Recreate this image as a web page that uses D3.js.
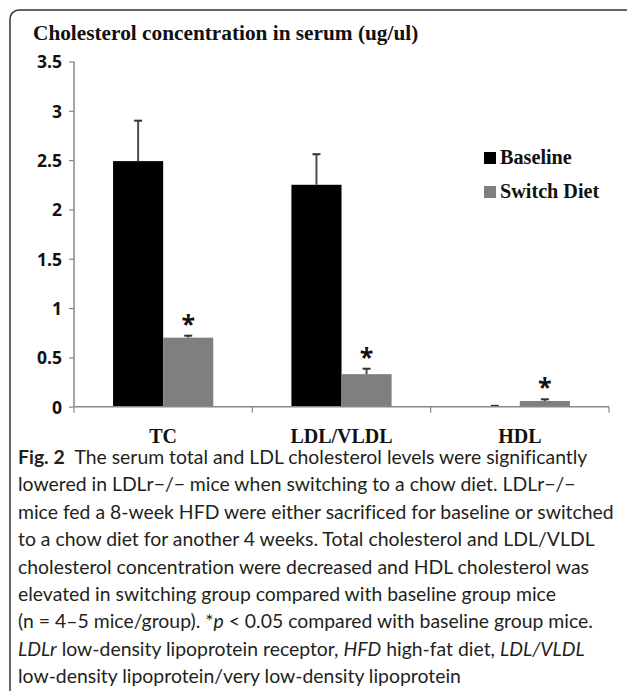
<!DOCTYPE html>
<html>
<head>
<meta charset="utf-8">
<script src="https://cdn.jsdelivr.net/npm/d3@7/dist/d3.min.js"></script>
<style>
  html, body { margin: 0; padding: 0; background: #fff; }
  svg { display: block; }
  .ytick text { font-family: "Open Sans", sans-serif; font-weight: 700; font-size: 17.5px; fill: #111; }
  .serif { font-family: "Liberation Serif", "Times New Roman", serif; font-weight: 700; fill: #111; }
  .cap { font-family: Lato, "Noto Sans", sans-serif; fill: #231f20; font-variant-ligatures: none; }
</style>
</head>
<body>
<svg id="chart" width="627" height="691"></svg>
<script>
// serum cholesterol, baseline vs switch diet (bars with upper SE only)
const categories = ["TC", "LDL/VLDL", "HDL"];
const series = ["Baseline", "Switch Diet"];
const baseline = [2.49, 2.25, 0.005];
const baselineErr = [0.41, 0.31, 0.004];
const switchDiet = [0.70, 0.33, 0.058];
const switchErr = [0.02, 0.055, 0.017];
const starred = [true, true, true]; // * over switch diet bars
const yTicks = [0, 0.5, 1, 1.5, 2, 2.5, 3, 3.5];

const captionLines = [
  [["b", "Fig. 2"], ["n", "\u2002The serum total and LDL cholesterol levels were significantly"]],
  [["n", "lowered in LDLr\u2212/\u2212 mice when switching to a chow diet. LDLr\u2212/\u2212"]],
  [["n", "mice fed a 8-week HFD were either sacrificed for baseline or switched"]],
  [["n", "to a chow diet for another 4 weeks. Total cholesterol and LDL/VLDL"]],
  [["n", "cholesterol concentration were decreased and HDL cholesterol was"]],
  [["n", "elevated in switching group compared with baseline group mice"]],
  [["n", "(n = 4\u20135 mice/group). *"], ["i", "p"], ["n", " < 0.05 compared with baseline group mice."]],
  [["i", "LDLr"], ["n", " low-density lipoprotein receptor, "], ["i", "HFD"], ["n", " high-fat diet, "], ["i", "LDL/VLDL"]],
  [["n", "low-density lipoprotein/very low-density lipoprotein"]],
];

const svg = d3.select("#chart");

// frame (rounded, runs off the right and bottom)
svg.append("rect")
  .attr("x", 10).attr("y", 10)
  .attr("width", 640).attr("height", 700)
  .attr("rx", 9)
  .attr("fill", "none")
  .attr("stroke", "#333")
  .attr("stroke-width", 1.5);

const x0 = d3.scaleBand().domain(categories).range([74, 609]);
const x1 = d3.scaleBand().domain(series).range([0, x0.bandwidth()]).paddingOuter(0.78);
const y = d3.scaleLinear().domain([0, 3.5]).range([406.7, 61.5]);

// title
svg.append("text").attr("class", "serif")
  .attr("x", 33).attr("y", 40)
  .attr("font-size", 21.3)
  .text("Cholesterol concentration in serum (ug/ul)");

// y axis
const yAxis = svg.append("g")
  .attr("class", "ytick")
  .attr("transform", "translate(74,0)")
  .call(d3.axisLeft(y).tickValues(yTicks).tickSize(5).tickPadding(7).tickFormat(d3.format("")));
yAxis.select(".domain").attr("stroke", "#888").attr("stroke-width", 1.5).attr("d", `M0,${y(0)}V${y(3.5)}`);
yAxis.selectAll(".tick line").attr("stroke", "#888").attr("stroke-width", 1.2);
yAxis.selectAll(".tick text").attr("dy", "0.36em");

// bars
const rows = categories.map((c, i) => ({
  cat: c,
  vals: [
    { s: series[0], v: baseline[i], e: baselineErr[i], star: false },
    { s: series[1], v: switchDiet[i], e: switchErr[i], star: starred[i] },
  ],
}));
const color = d3.scaleOrdinal().domain(series).range(["#000", "#7f7f7f"]);

const grp = svg.append("g").selectAll("g")
  .data(rows).join("g")
  .attr("transform", d => `translate(${x0(d.cat)},0)`);

grp.selectAll("rect")
  .data(d => d.vals).join("rect")
  .attr("x", d => x1(d.s))
  .attr("y", d => y(d.v))
  .attr("width", x1.bandwidth())
  .attr("height", d => y(0) - y(d.v))
  .attr("fill", d => color(d.s));

// upper error bars
const eb = grp.selectAll("g.err")
  .data(d => d.vals).join("g").attr("class", "err")
  .attr("transform", d => `translate(${x1(d.s) + x1.bandwidth() / 2},0)`);
eb.append("line")
  .attr("y1", d => y(d.v)).attr("y2", d => y(d.v + d.e))
  .attr("stroke", "#4d4d4d").attr("stroke-width", 2);
eb.append("line")
  .attr("x1", -4).attr("x2", 4)
  .attr("y1", d => y(d.v + d.e)).attr("y2", d => y(d.v + d.e))
  .attr("stroke", "#333").attr("stroke-width", 2);
eb.filter(d => d.star).append("text")
  .attr("y", d => y(d.v + d.e) - 3)
  .attr("text-anchor", "middle")
  .attr("font-family", "'Open Sans', sans-serif")
  .attr("font-weight", 700)
  .attr("font-size", 25)
  .attr("fill", "#111")
  .text("*");

// x axis
svg.append("line")
  .attr("x1", x0.range()[0]).attr("x2", x0.range()[1])
  .attr("y1", y(0)).attr("y2", y(0))
  .attr("stroke", "#888").attr("stroke-width", 1.5);
const edges = categories.map(c => x0(c)).concat([x0.range()[1]]);
svg.append("g").selectAll("line")
  .data(edges).join("line")
  .attr("x1", d => d).attr("x2", d => d)
  .attr("y1", y(0)).attr("y2", y(0) + 6)
  .attr("stroke", "#888").attr("stroke-width", 1.2);
svg.append("g").selectAll("text")
  .data(categories).join("text")
  .attr("class", "serif")
  .attr("x", d => x0(d) + x0.bandwidth() / 2)
  .attr("y", 443)
  .attr("text-anchor", "middle")
  .attr("font-size", 20)
  .text(d => d);

// legend
const leg = svg.append("g").selectAll("g")
  .data(series).join("g")
  .attr("transform", (d, i) => `translate(484,${152 + i * 34})`);
leg.append("rect")
  .attr("width", 12).attr("height", 12)
  .attr("fill", d => color(d));
leg.append("text").attr("class", "serif")
  .attr("x", 16).attr("y", 12)
  .attr("font-size", 20.2)
  .text(d => d);

// caption
const cap = svg.append("g").attr("class", "cap");
const capLines = cap.selectAll("text")
  .data(captionLines).join("text")
  .attr("x", 18)
  .attr("y", (d, i) => 464 + i * 27.4)
  .attr("font-size", 18);
capLines.selectAll("tspan")
  .data(d => d).join("tspan")
  .attr("font-weight", d => d[0] === "b" ? 700 : 400)
  .attr("font-style", d => d[0] === "i" ? "italic" : "normal")
  .text(d => d[1]);
// fit caption size to the widest printed line (line 3 spans ~596px)
const w3 = capLines.nodes()[2].getComputedTextLength();
capLines.attr("font-size", 18 * 596 / w3);
</script>
</body>
</html>
